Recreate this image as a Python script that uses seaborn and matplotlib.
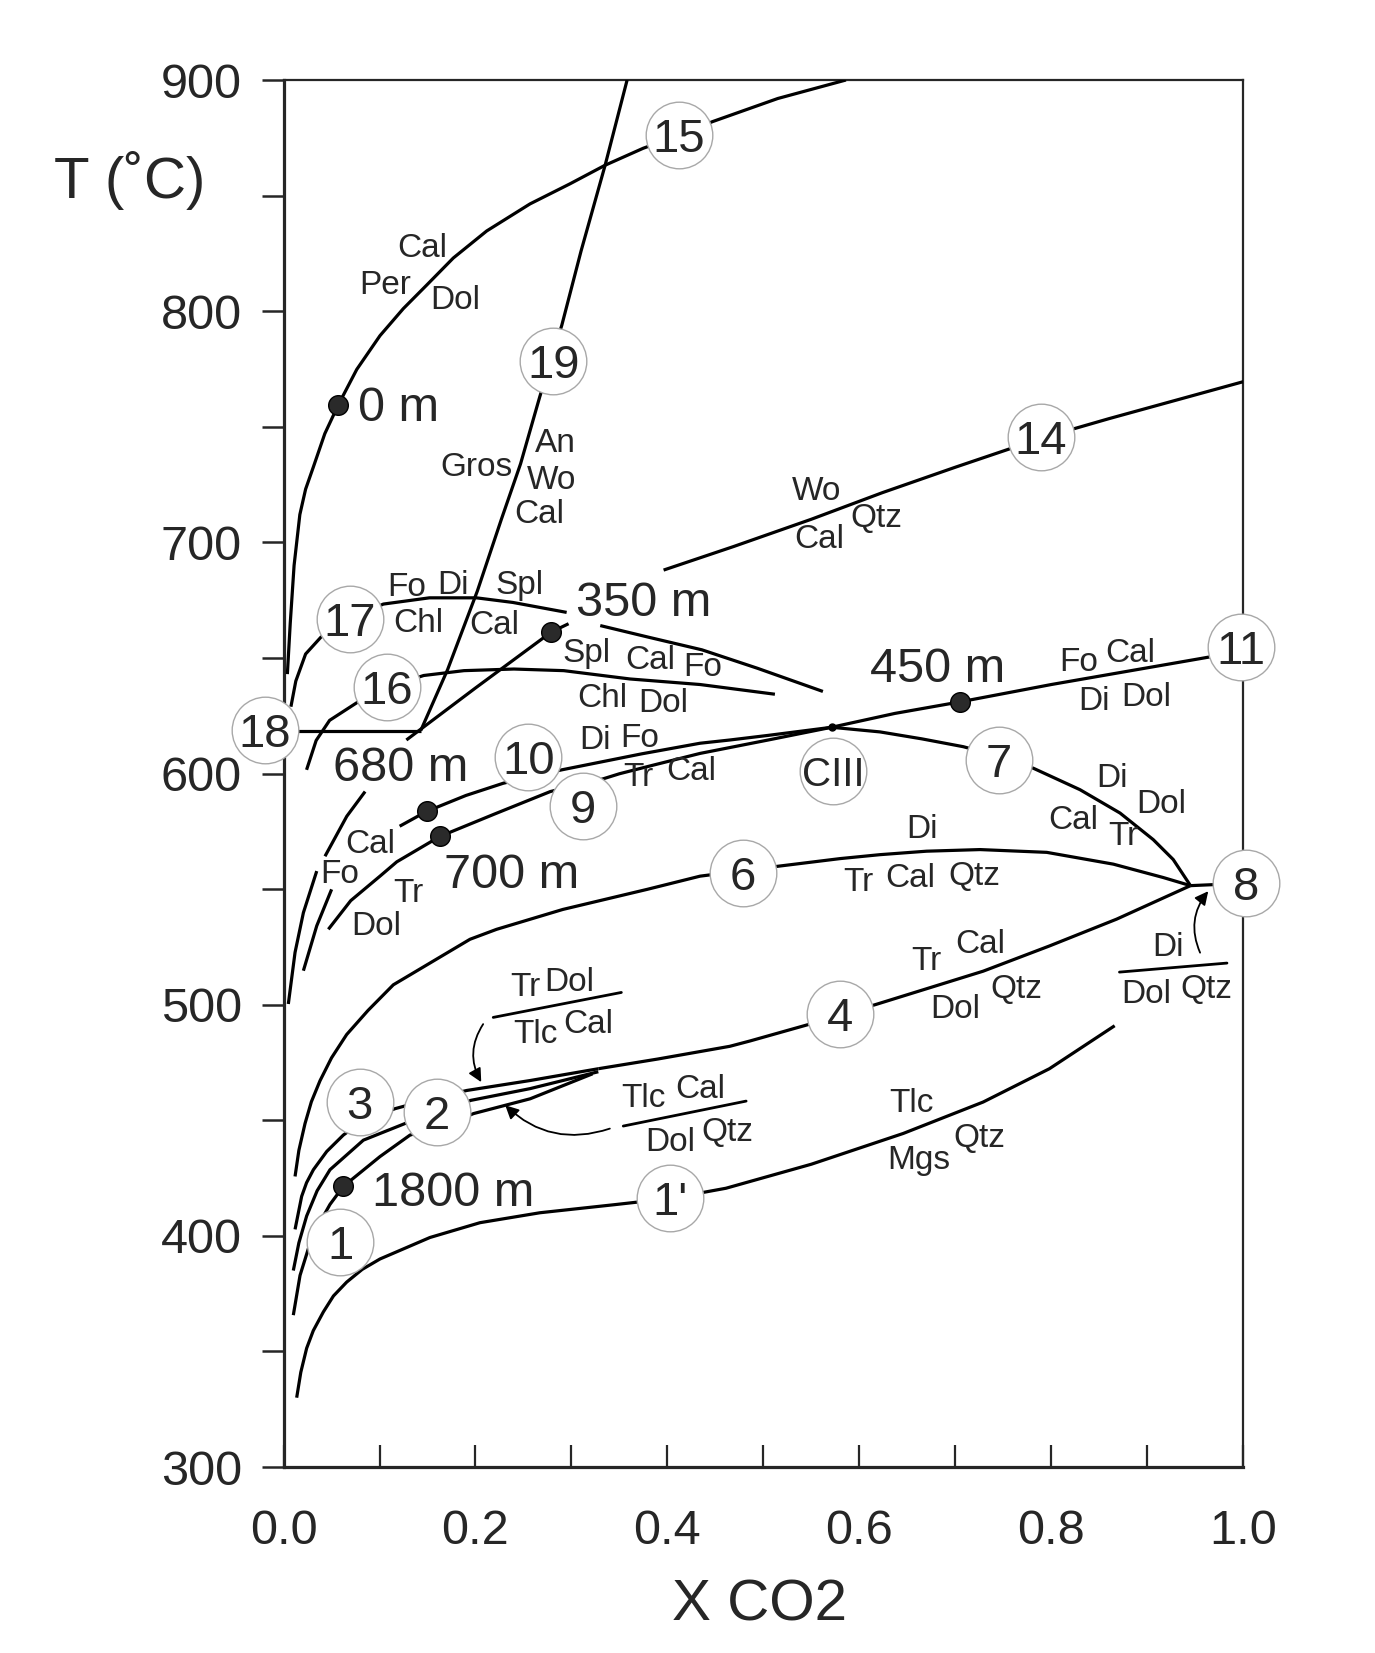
import numpy as np
import pandas as pd
import matplotlib
matplotlib.use("Agg")
import matplotlib.pyplot as plt
import seaborn as sns

# reaction curves, X CO2 vs T (C)
c15_x = [0.004, 0.007, 0.011, 0.017, 0.023, 0.031, 0.043, 0.0571, 0.0763, 0.1005, 0.1248, 0.1492, 0.1769, 0.2117, 0.2568, 0.2985, 0.3349, 0.3749, 0.412, 0.447, 0.515, 0.586]
c15_t = [643, 665, 690, 712, 723, 732.5, 747, 759.5, 774.8, 789.4, 801.1, 811.3, 823, 834.7, 846.4, 855.1, 863.1, 870.5, 876, 882, 892, 900]

c19_x = [0.143, 0.171, 0.202, 0.227, 0.247, 0.267, 0.29, 0.31, 0.335, 0.358]
c19_t = [618.6, 645, 679, 710, 734, 763, 794, 826, 863, 900]

c18_x = [-0.02, 0.143]
c18_t = [618.6, 618.6]

c17a_x = [0.0077, 0.0128, 0.023, 0.039, 0.07, 0.104, 0.152, 0.201, 0.239, 0.295]
c17a_t = [628.9, 640, 651.7, 659, 667, 673.3, 676, 676, 674, 669.7]
c17b_x = [0.33, 0.38, 0.436, 0.494, 0.562]
c17b_t = [664, 659, 653.5, 645.5, 635.5]

c16_x = [0.024, 0.034, 0.048, 0.077, 0.108, 0.146, 0.188, 0.240, 0.292, 0.361, 0.434, 0.512]
c16_t = [601.6, 614.3, 623, 630.8, 637.3, 642.4, 644.5, 645.2, 644.5, 640.9, 638.5, 634.3]

c350_x = [0.128, 0.20, 0.279, 0.297]
c350_t = [614.5, 637, 661.2, 664.8]

c10_x = [0.121, 0.149, 0.19, 0.229, 0.29, 0.373, 0.434, 0.465, 0.505, 0.571]
c10_t = [577.2, 583.6, 590.5, 595.8, 601.6, 608.5, 613.1, 614.5, 616.5, 620]
c10b_x = [0.0501, 0.0346, 0.0207]
c10b_t = [549.9, 534.1, 514.7]

cfo_up_x = [0.085, 0.0659, 0.0432]
cfo_up_t = [592.2, 581.5, 564.2]
cfo_lo_x = [0.0346, 0.0207, 0.012, 0.005]
cfo_lo_t = [557.8, 539.8, 522.6, 500.3]

c9_x = [0.0467, 0.07, 0.1005, 0.118, 0.163, 0.22, 0.278, 0.333, 0.35, 0.384, 0.434, 0.505, 0.571]
c9_t = [532.6, 545, 555.6, 561.8, 572.8, 582.5, 592.2, 597.7, 599.9, 603.5, 608.7, 614.5, 620]

c11_x = [0.571, 0.637, 0.705, 0.80, 0.955, 1.0]
c11_t = [620, 626, 631, 638.5, 649.7, 653]

c7_x = [0.571, 0.6215, 0.665, 0.7083, 0.745, 0.7812, 0.8299, 0.8716, 0.9062, 0.927, 0.945]
c7_t = [620, 618, 615, 611.6, 607.5, 602.3, 593, 582.9, 571.4, 562.8, 551.5]

c8_x = [0.945, 1.0]
c8_t = [551.5, 552.5]

c6_x = [0.012, 0.016, 0.0224, 0.029, 0.038, 0.05, 0.0658, 0.088, 0.1144, 0.1943, 0.222, 0.291, 0.379, 0.434, 0.5155, 0.58, 0.6215, 0.67, 0.7257, 0.7952, 0.8646, 0.9167, 0.945]
c6_t = [425.7, 437, 448.6, 458, 467.1, 477, 487.1, 497.5, 508.6, 528.3, 532.6, 541.2, 549.9, 555.6, 559.9, 563.2, 564.9, 566.4, 567.1, 565.9, 560.8, 555, 551.5]

c4_x = [0.328, 0.39, 0.465, 0.486, 0.545, 0.58, 0.618, 0.729, 0.798, 0.868, 0.945]
c4_t = [472.3, 476.5, 482, 484.3, 491.2, 495.5, 500.2, 514.5, 525.4, 537, 551.5]

c3_x = [0.012, 0.0189, 0.024, 0.0311, 0.045, 0.0623, 0.08, 0.116, 0.156, 0.191, 0.257, 0.328]
c3_t = [402.8, 417.1, 423, 428.6, 436.5, 443.6, 449, 455, 459.5, 462.9, 467.2, 472.3]

c2_x = [0.0102, 0.016, 0.0241, 0.035, 0.0484, 0.0832, 0.1266, 0.162, 0.195, 0.257, 0.328]
c2_t = [385, 397, 408.6, 419.5, 428.6, 441.4, 448.6, 453, 458.6, 463.7, 471]

c1_x = [0.0102, 0.0172, 0.03, 0.0484, 0.0623, 0.1005, 0.1318, 0.166, 0.198, 0.257, 0.322]
c1_t = [365.7, 382.9, 400, 413.6, 421.4, 434.3, 443.6, 447.5, 452.9, 459.3, 470.1]

c1p_x = [0.0137, 0.018, 0.0241, 0.031, 0.0415, 0.052, 0.0658, 0.082, 0.1005, 0.1526, 0.2047, 0.2672, 0.345, 0.403, 0.461, 0.55, 0.6457, 0.729, 0.798, 0.866]
c1p_t = [330, 341, 351.4, 359, 367.1, 374, 380, 385.5, 390, 399.3, 405.7, 410, 413.5, 416.2, 420.6, 431, 444.3, 457.9, 472.3, 490.9]

c14_x = [0.396, 0.469, 0.55, 0.624, 0.70, 0.789, 0.86, 0.93, 1.0]
c14_t = [688, 698.2, 710, 721.5, 732.5, 745, 753.5, 761.5, 769.5]

# numbered reactions (circled)
circ_text = ["15", "19", "14", "17", "16", "18", "10", "9", "CIII", "7", "11", "6", "8", "4", "3", "2", "1", "1'"]
circ_x = [0.412, 0.2811, 0.789, 0.0693, 0.1075, -0.0193, 0.255, 0.312, 0.573, 0.745, 0.998, 0.479, 1.003, 0.580, 0.0794, 0.1596, 0.0589, 0.403]
circ_t = [876, 778.5, 745.4, 666.9, 637.5, 618.8, 607.3, 585.8, 600.9, 605.9, 654.9, 556.9, 552.7, 495.8, 457.9, 453.6, 397.5, 416.2]

# depth points
depth_text = ["0 m", "350 m", "450 m", "680 m", "700 m", "1800 m"]
depth_x = [0.0571, 0.279, 0.705, 0.149, 0.163, 0.0623]
depth_t = [759.5, 661.2, 631, 583.6, 572.8, 421.4]
depth_lab_x = [0.078, 0.305, 0.611, 0.052, 0.167, 0.092]
depth_lab_t = [760, 675.5, 647, 604.5, 558, 420.6]

# mineral assemblage labels
min_text = ["Cal", "Per", "Dol", "An", "Gros", "Wo", "Cal", "Wo", "Cal", "Qtz",
            "Fo", "Di", "Spl", "Chl", "Cal", "Spl", "Cal", "Fo", "Chl", "Dol",
            "Fo", "Cal", "Di", "Dol", "Di", "Fo", "Tr", "Cal",
            "Di", "Dol", "Cal", "Tr", "Cal", "Fo", "Tr", "Dol",
            "Di", "Tr", "Cal", "Qtz", "Tr", "Cal", "Dol", "Qtz",
            "Di", "Dol", "Qtz", "Tr", "Dol", "Tlc", "Cal", "Tlc", "Cal", "Dol", "Qtz",
            "Tlc", "Mgs", "Qtz"]
min_x = [0.145, 0.106, 0.179, 0.283, 0.201, 0.279, 0.266, 0.555, 0.558, 0.618,
         0.128, 0.177, 0.246, 0.140, 0.220, 0.316, 0.382, 0.437, 0.332, 0.396,
         0.828, 0.882, 0.844, 0.899, 0.325, 0.371, 0.370, 0.425,
         0.863, 0.915, 0.823, 0.875, 0.090, 0.059, 0.130, 0.097,
         0.665, 0.599, 0.653, 0.720, 0.670, 0.726, 0.700, 0.764,
         0.922, 0.899, 0.962, 0.252, 0.298, 0.262, 0.318, 0.375, 0.434, 0.403, 0.462,
         0.6545, 0.662, 0.725]
min_t = [828.8, 812.8, 806.2, 744.2, 734, 728.1, 713.5, 723.7, 702.7, 711.8,
         682, 682.7, 682.7, 666.2, 665.5, 653.3, 650.4, 647.5, 633.8, 631.6,
         649.7, 653.3, 632.5, 634.6, 615.8, 616.5, 600, 602.2,
         599.4, 587.9, 581.4, 574.3, 570.6, 557.7, 549.8, 535.4,
         577.2, 554.2, 556.3, 557, 520.4, 527.6, 499.6, 508.2,
         526.2, 506, 508.2, 508.9, 511, 488.8, 493, 460.8, 465, 442, 446.4,
         458.6, 434, 443.7]

# fraction bars and arrows of the small reaction labels
frac_x0 = [0.2185, 0.354, 0.871]
frac_t0 = [494.5, 447.5, 514.1]
frac_x1 = [0.352, 0.482, 0.983]
frac_t1 = [505.3, 458.3, 518.0]
arrow_tail_x = [0.208, 0.340, 0.955]
arrow_tail_t = [491.6, 446.4, 522.5]
arrow_head_x = [0.206, 0.231, 0.9635]
arrow_head_t = [466.5, 456.5, 549.1]
arrow_rad = [0.3, -0.3, -0.3]

curves = {
    "15": (c15_x, c15_t), "19": (c19_x, c19_t), "18": (c18_x, c18_t),
    "17a": (c17a_x, c17a_t), "17b": (c17b_x, c17b_t), "16": (c16_x, c16_t),
    "350": (c350_x, c350_t), "10": (c10_x, c10_t), "10b": (c10b_x, c10b_t),
    "fo_up": (cfo_up_x, cfo_up_t), "fo_lo": (cfo_lo_x, cfo_lo_t),
    "9": (c9_x, c9_t), "11": (c11_x, c11_t), "7": (c7_x, c7_t), "8": (c8_x, c8_t),
    "6": (c6_x, c6_t), "4": (c4_x, c4_t), "3": (c3_x, c3_t), "2": (c2_x, c2_t),
    "1": (c1_x, c1_t), "1p": (c1p_x, c1p_t), "14": (c14_x, c14_t),
}
rows = []
for name, (xs, ts) in curves.items():
    for i, (xv, tv) in enumerate(zip(xs, ts)):
        rows.append({"curve": name, "order": i, "x": xv, "t": tv})
df = pd.DataFrame(rows)

sns.set_style("ticks")
plt.rcParams['font.family'] = ['Liberation Sans', 'DejaVu Sans']

fig = plt.figure(figsize=(13.75, 16.53), dpi=100)
ax = fig.add_axes([0.2062, 0.1125, 0.698, 0.8391])

sns.lineplot(data=df, x="x", y="t", units="curve", estimator=None, sort=False,
             color="black", lw=2.3, legend=False, ax=ax, zorder=3,
             solid_joinstyle="round", solid_capstyle="butt")

# depth dots
sns.scatterplot(x=depth_x, y=depth_t, s=200, color="#2a2a2a", edgecolor="black",
                linewidth=1, zorder=5, ax=ax, legend=False)
ax.scatter([0.571], [620], s=25, color="black", zorder=5)
for txt, xv, tv in zip(depth_text, depth_lab_x, depth_lab_t):
    ax.text(xv, tv, txt, fontsize=35, ha="left", va="center_baseline", zorder=7)

# circled reaction numbers
ax.scatter(circ_x, circ_t, s=2300, c="white", edgecolors="#a8a8a8", linewidths=1.0,
           zorder=6, clip_on=False)
for txt, xv, tv in zip(circ_text, circ_x, circ_t):
    fs = 29 if txt == "CIII" else 34
    ax.text(xv, tv, txt, fontsize=fs, ha="center", va="center_baseline", zorder=7, clip_on=False)

for txt, xv, tv in zip(min_text, min_x, min_t):
    ax.text(xv, tv, txt, fontsize=24, ha="center", va="center_baseline", zorder=4)

for x0, t0, x1, t1 in zip(frac_x0, frac_t0, frac_x1, frac_t1):
    ax.plot([x0, x1], [t0, t1], color="black", lw=2.0, zorder=4)
for tx, tt, hx, ht, rad in zip(arrow_tail_x, arrow_tail_t, arrow_head_x, arrow_head_t, arrow_rad):
    ax.annotate("", xy=(hx, ht), xytext=(tx, tt),
                arrowprops=dict(arrowstyle="-|>", color="black", lw=1.3, mutation_scale=20,
                                shrinkA=0, shrinkB=0, connectionstyle=f"arc3,rad={rad}"),
                zorder=4)

ax.set_xlim(0, 1)
ax.set_ylim(300, 900)
xt = np.round(np.arange(0, 1.01, 0.1), 1)
ax.set_xticks(xt)
ax.set_xticklabels([f"{v:.1f}" if i % 2 == 0 else "" for i, v in enumerate(xt)])
yt = np.arange(300, 901, 50)
ax.set_yticks(yt)
ax.set_yticklabels([str(v) if v % 100 == 0 else "" for v in yt])
ax.tick_params(axis="x", direction="in", length=16, width=1.6, pad=30, labelsize=35)
ax.tick_params(axis="y", direction="out", length=16, width=1.8, pad=14, labelsize=35)
ax.set_xlabel("")
ax.set_ylabel("")
for side in ["left", "bottom"]:
    ax.spines[side].set_linewidth(2.3)
for side in ["top", "right"]:
    ax.spines[side].set_linewidth(1.6)

fig.text(0.094, 0.891, "T (˚C)", fontsize=42, ha="center", va="center")
fig.text(0.552, 0.029, "X CO2", fontsize=42, ha="center", va="center")

fig.savefig("out.png", dpi=100)
